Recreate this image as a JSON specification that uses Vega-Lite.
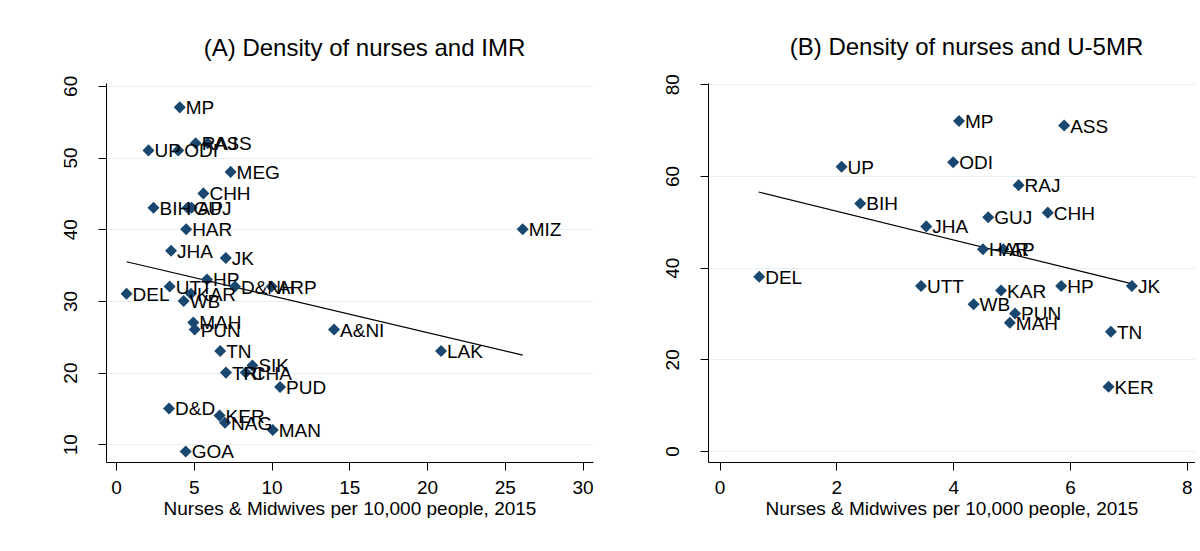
{
  "$schema": "https://vega.github.io/schema/vega-lite/v6.json",
  "background": "white",
  "padding": {"left": 0, "top": 35, "right": 0, "bottom": 0},
  "spacing": 0,
  "config": {
    "font": "Liberation Sans",
    "view": {"stroke": null},
    "axis": {
      "labelFont": "Liberation Sans",
      "labelFontSize": 19,
      "labelColor": "black",
      "titleFont": "Liberation Sans",
      "titleFontSize": 19,
      "titleFontWeight": "normal",
      "titleColor": "black",
      "domainColor": "black",
      "domainWidth": 1,
      "tickColor": "black",
      "tickWidth": 1,
      "tickSize": 8,
      "gridColor": "#e6eff1",
      "gridWidth": 1
    },
    "title": {"font": "Liberation Sans", "fontSize": 24, "fontWeight": "normal", "color": "black", "anchor": "middle", "frame": "group"}
  },
  "datasets": {
    "states": [
      {"state": "MP", "nurses": 4.1, "imr": 57, "u5mr": 72},
      {"state": "RAJ", "nurses": 5.12, "imr": 52, "u5mr": 58},
      {"state": "ASS", "nurses": 5.9, "imr": 52, "u5mr": 71},
      {"state": "UP", "nurses": 2.09, "imr": 51, "u5mr": 62},
      {"state": "ODI", "nurses": 4.0, "imr": 51, "u5mr": 63},
      {"state": "MEG", "nurses": 7.37, "imr": 48, "u5mr": null},
      {"state": "CHH", "nurses": 5.62, "imr": 45, "u5mr": 52},
      {"state": "BIH", "nurses": 2.41, "imr": 43, "u5mr": 54},
      {"state": "GUJ", "nurses": 4.6, "imr": 43, "u5mr": 51},
      {"state": "AP", "nurses": 4.86, "imr": 43, "u5mr": 44},
      {"state": "HAR", "nurses": 4.51, "imr": 40, "u5mr": 44},
      {"state": "MIZ", "nurses": 26.15, "imr": 40, "u5mr": null},
      {"state": "JHA", "nurses": 3.54, "imr": 37, "u5mr": 49},
      {"state": "JK", "nurses": 7.06, "imr": 36, "u5mr": 36},
      {"state": "HP", "nurses": 5.85, "imr": 33, "u5mr": 36},
      {"state": "D&NH", "nurses": 7.65, "imr": 32, "u5mr": null},
      {"state": "ARP", "nurses": 10.01, "imr": 32, "u5mr": null},
      {"state": "UTT", "nurses": 3.45, "imr": 32, "u5mr": 36},
      {"state": "KAR", "nurses": 4.82, "imr": 31, "u5mr": 35},
      {"state": "DEL", "nurses": 0.68, "imr": 31, "u5mr": 38},
      {"state": "WB", "nurses": 4.35, "imr": 30, "u5mr": 32},
      {"state": "MAH", "nurses": 4.97, "imr": 27, "u5mr": 28},
      {"state": "PUN", "nurses": 5.06, "imr": 26, "u5mr": 30},
      {"state": "A&NI", "nurses": 14.02, "imr": 26, "u5mr": null},
      {"state": "TN", "nurses": 6.7, "imr": 23, "u5mr": 26},
      {"state": "LAK", "nurses": 20.9, "imr": 23, "u5mr": null},
      {"state": "SIK", "nurses": 8.77, "imr": 21, "u5mr": null},
      {"state": "TRI", "nurses": 7.07, "imr": 20, "u5mr": null},
      {"state": "CHA", "nurses": 8.34, "imr": 20, "u5mr": null},
      {"state": "PUD", "nurses": 10.55, "imr": 18, "u5mr": null},
      {"state": "D&D", "nurses": 3.41, "imr": 15, "u5mr": null},
      {"state": "KER", "nurses": 6.66, "imr": 14, "u5mr": 14},
      {"state": "NAG", "nurses": 7.01, "imr": 13, "u5mr": null},
      {"state": "MAN", "nurses": 10.08, "imr": 12, "u5mr": null},
      {"state": "GOA", "nurses": 4.48, "imr": 9, "u5mr": null}
    ],
    "fitA": [
      {"nurses": 0.68, "imr": 35.47},
      {"nurses": 26.15, "imr": 22.45}
    ],
    "fitB": [
      {"nurses": 0.67, "u5mr": 56.5},
      {"nurses": 7.05, "u5mr": 36.5}
    ]
  },
  "hconcat": [
    {
      "width": 487,
      "height": 379,
      "title": {"text": "(A) Density of nurses and IMR", "dx": 15, "baseline": "alphabetic", "offset": -5},
      "encoding": {
        "x": {
          "field": "nurses", "type": "quantitative",
          "scale": {"domain": [-0.643, 30.67], "nice": false, "zero": false},
          "axis": {"title": "Nurses & Midwives per 10,000 people, 2015", "values": [0, 5, 10, 15, 20, 25, 30], "grid": false, "labelPadding": 8, "titlePadding": 2, "labelFlush": false}
        },
        "y": {
          "field": "imr", "type": "quantitative",
          "scale": {"domain": [7.53, 60.4], "nice": false, "zero": false},
          "axis": {"title": null, "values": [10, 20, 30, 40, 50, 60], "grid": true, "labelAngle": 270, "labelAlign": "center", "labelBaseline": "bottom", "labelPadding": 18, "minExtent": 106, "maxExtent": 106, "labelFlush": false}
        }
      },
      "layer": [
        {"data": {"name": "fitA"}, "mark": {"type": "line", "color": "black", "strokeWidth": 1.2}},
        {"data": {"name": "states"}, "mark": {"type": "point", "shape": "diamond", "filled": true, "size": 145, "color": "#1a476f", "opacity": 1}},
        {"data": {"name": "states"}, "mark": {"type": "text", "align": "left", "baseline": "middle", "dx": 6, "dy": 1, "fontSize": 19, "color": "black"}, "encoding": {"text": {"field": "state"}}}
      ]
    },
    {
      "width": 487,
      "height": 379,
      "title": {"text": "(B) Density of nurses and U-5MR", "dx": 15, "baseline": "alphabetic", "offset": -5},
      "transform": [{"filter": "datum.u5mr != null"}],
      "encoding": {
        "x": {
          "field": "nurses", "type": "quantitative",
          "scale": {"domain": [-0.197, 8.14], "nice": false, "zero": false},
          "axis": {"title": "Nurses & Midwives per 10,000 people, 2015", "values": [0, 2, 4, 6, 8], "grid": false, "labelPadding": 8, "titlePadding": 2, "labelFlush": false}
        },
        "y": {
          "field": "u5mr", "type": "quantitative",
          "scale": {"domain": [-2.4, 80.28], "nice": false, "zero": false},
          "axis": {"title": null, "values": [0, 20, 40, 60, 80], "grid": true, "labelAngle": 270, "labelAlign": "center", "labelBaseline": "bottom", "labelPadding": 18, "minExtent": 114, "maxExtent": 114, "labelFlush": false}
        }
      },
      "layer": [
        {"data": {"name": "fitB"}, "mark": {"type": "line", "color": "black", "strokeWidth": 1.2}},
        {"data": {"name": "states"}, "mark": {"type": "point", "shape": "diamond", "filled": true, "size": 145, "color": "#1a476f", "opacity": 1}},
        {"data": {"name": "states"}, "mark": {"type": "text", "align": "left", "baseline": "middle", "dx": 6, "dy": 1, "fontSize": 19, "color": "black"}, "encoding": {"text": {"field": "state"}}}
      ]
    }
  ]
}
